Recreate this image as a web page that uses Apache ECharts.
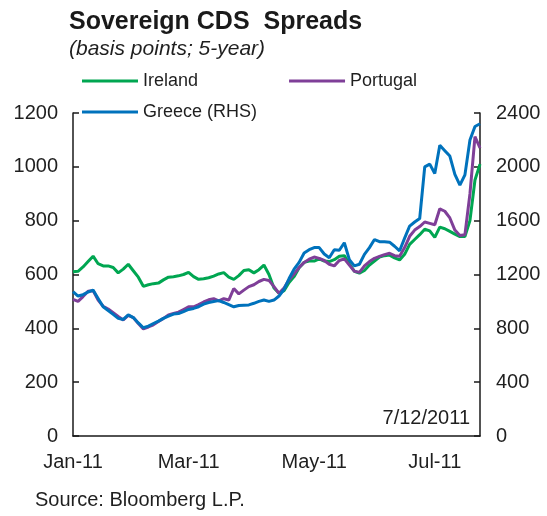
<!DOCTYPE html>
<html>
<head>
<meta charset="utf-8">
<script src="https://cdn.jsdelivr.net/npm/echarts@6/dist/echarts.min.js"></script>
<style>
  html, body { margin: 0; padding: 0; background: #fff; }
  #chart { width: 547px; height: 516px; }
</style>
</head>
<body>
<div id="chart"></div>
<script>
// basis points (Greece is on the right hand scale)
const ireland = [610,612,628,648,668,640,632,632,626,606, 620,638,614,590,556,562,566,568,580,590,
  592,595,600,608,592,582,584,588,594,602, 607,590,582,596,615,618,606,618,635,600,
  550,530,540,570,592,625,645,650,650,658, 650,648,655,668,670,640,612,605,615,635,
  650,665,670,672,662,654,675,712,730,748, 768,762,738,776,770,760,750,741,741,800,
  951,1010]
const portugal = [508,500,518,538,540,505,482,472,458,444, 431,448,440,418,398,405,413,425,437,450,
  455,460,470,480,480,488,498,506,510,502, 510,505,548,528,542,555,562,574,582,578,
  555,530,550,580,602,626,645,657,665,660, 652,638,632,652,658,635,612,608,632,648,
  660,667,674,679,670,668,700,742,765,778, 795,790,785,844,835,810,765,745,748,900,
  1112,1070]
const greece = [1072,1040,1050,1070,1084,1022,960,932,904,874, 866,900,880,840,804,816,836,854,874,890,
  906,910,924,940,948,960,980,992,1000,1006, 992,976,960,970,972,974,986,1000,1010,1000,
  1010,1040,1090,1170,1240,1290,1360,1384,1400,1400, 1352,1324,1384,1380,1436,1310,1264,1276,1350,1400,
  1460,1444,1444,1440,1410,1376,1470,1560,1590,1616, 2000,2020,1950,2160,2120,2080,1944,1864,1940,2200,
  2300,2320]

// observations between early Jan and 7/12/2011
const categories = ireland.map((v, i) => 'd' + i)
const monthLabels = ['Jan-11', 'Mar-11', 'May-11', 'Jul-11']
const monthIndex = [0, 23, 48, 72]

const FONT = 'Liberation Sans, Arial, sans-serif'
const TXT = '#1f1f1f'

let option = {
  animation: false,
  backgroundColor: '#fff',
  title: {
    text: 'Sovereign CDS  Spreads',
    subtext: '(basis points; 5-year)',
    left: 64,
    top: 5,
    itemGap: 4,
    textStyle: { fontFamily: FONT, fontSize: 25, fontWeight: 'bold', color: '#1a1a1a' },
    subtextStyle: { fontFamily: FONT, fontSize: 21, fontStyle: 'italic', color: TXT }
  },
  legend: [{
    data: ['Ireland', 'Portugal'],
    left: 77,
    top: 67,
    icon: 'rect',
    itemWidth: 56,
    itemHeight: 3,
    itemGap: 91,
    selectedMode: false,
    textStyle: { fontFamily: FONT, fontSize: 18, color: TXT }
  }, {
    data: ['Greece (RHS)'],
    left: 77,
    top: 98,
    icon: 'rect',
    itemWidth: 56,
    itemHeight: 3,
    selectedMode: false,
    textStyle: { fontFamily: FONT, fontSize: 18, color: TXT }
  }],
  grid: { left: 73, right: 67, top: 113, bottom: 80 },
  xAxis: {
    type: 'category',
    data: categories,
    boundaryGap: false,
    axisLine: { lineStyle: { color: '#1a1a1a', width: 1.5 } },
    axisTick: { show: false },
    axisLabel: {
      interval: (i) => monthIndex.indexOf(i) >= 0,
      formatter: (v, i) => monthLabels[monthIndex.indexOf(i)],
      margin: 16,
      fontFamily: FONT,
      fontSize: 20,
      color: TXT
    }
  },
  yAxis: [{
    type: 'value',
    min: 0,
    max: 1200,
    interval: 200,
    axisLine: { show: true, lineStyle: { color: '#1a1a1a', width: 1.5 } },
    axisTick: { show: true, inside: true, length: 6, lineStyle: { color: '#1a1a1a', width: 1.5 } },
    splitLine: { show: false },
    axisLabel: { margin: 15, formatter: (v) => String(v), fontFamily: FONT, fontSize: 20, color: TXT }
  }, {
    type: 'value',
    min: 0,
    max: 2400,
    interval: 400,
    position: 'right',
    axisLine: { show: true, lineStyle: { color: '#1a1a1a', width: 1.5 } },
    axisTick: { show: true, inside: true, length: 6, lineStyle: { color: '#1a1a1a', width: 1.5 } },
    splitLine: { show: false },
    axisLabel: { margin: 16, formatter: (v) => String(v), fontFamily: FONT, fontSize: 20, color: TXT }
  }],
  series: [{
    name: 'Ireland',
    type: 'line',
    data: ireland,
    yAxisIndex: 0,
    showSymbol: false,
    color: '#00a651',
    lineStyle: { width: 3 }
  }, {
    name: 'Portugal',
    type: 'line',
    data: portugal,
    yAxisIndex: 0,
    showSymbol: false,
    color: '#7f3f98',
    lineStyle: { width: 3 }
  }, {
    name: 'Greece (RHS)',
    type: 'line',
    data: greece,
    yAxisIndex: 1,
    showSymbol: false,
    color: '#0072bc',
    lineStyle: { width: 3 }
  }],
  graphic: [{
    type: 'text',
    right: 77,
    top: 408,
    style: { text: '7/12/2011', fontFamily: FONT, fontSize: 20, fill: TXT }
  }, {
    type: 'text',
    left: 35,
    top: 490,
    style: { text: 'Source: Bloomberg L.P.', fontFamily: FONT, fontSize: 20, fill: TXT }
  }]
}

let chart = echarts.init(document.getElementById('chart'))
chart.setOption(option)
</script>
</body>
</html>
